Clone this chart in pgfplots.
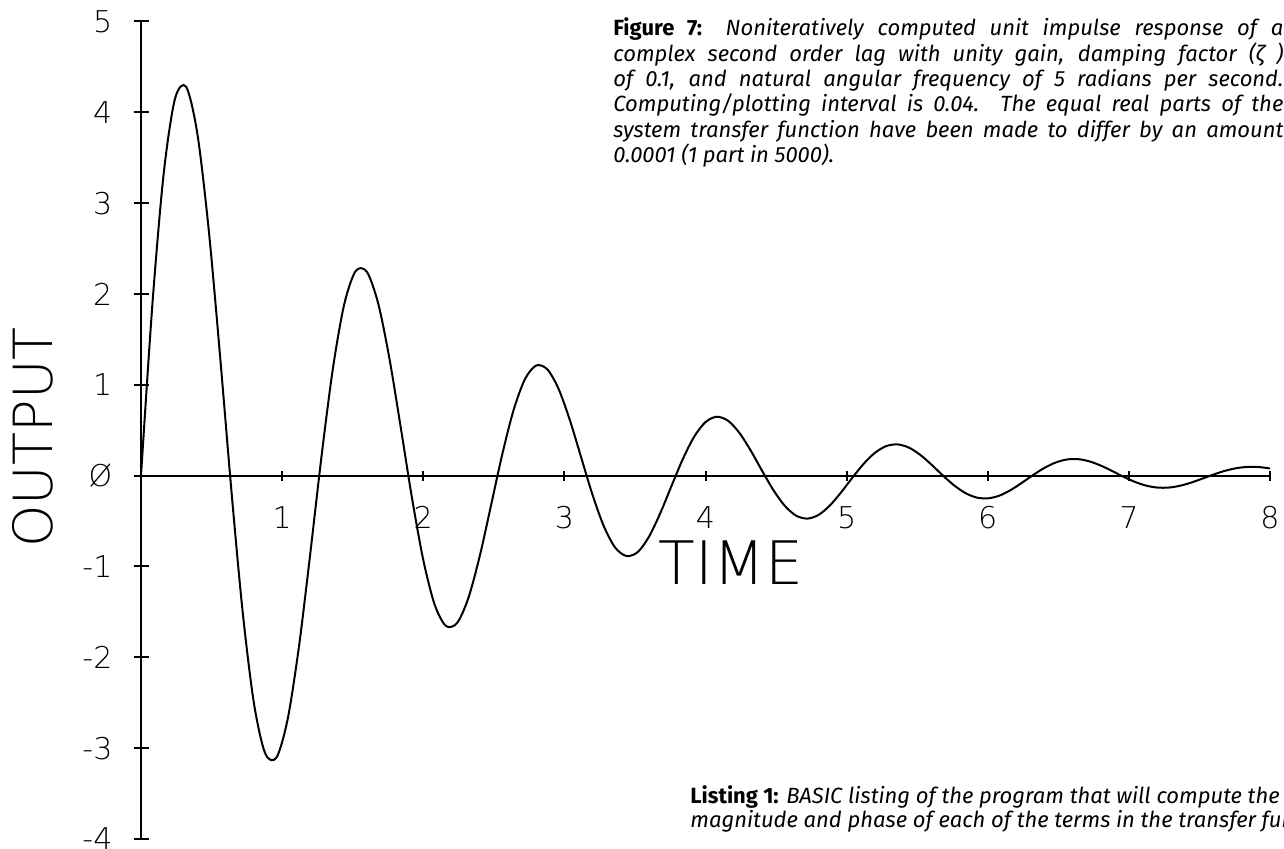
\documentclass[border=0pt]{standalone}
\usepackage{fontspec}
\usepackage{pgfplots}
\pgfplotsset{compat=1.18}
\IfFontExistsTF{DejaVu Sans ExtraLight}{\newfontfamily\plotfont{DejaVu Sans ExtraLight}}{\newfontfamily\plotfont{DejaVu Sans}}
\newfontfamily\capfont{Fira Sans}
\pgfplotstableread{
t h
0.00 0.0000
0.08 1.8712
0.16 3.3147
0.24 4.1442
0.32 4.2813
0.40 3.7581
0.48 2.7050
0.56 1.3224
0.64 -0.1545
0.72 -1.4945
0.80 -2.5046
0.88 -3.0571
0.96 -3.1032
1.04 -2.6750
1.12 -1.8738
1.20 -0.8499
1.28 0.2242
1.36 1.1818
1.44 1.8864
1.52 2.2506
1.60 2.2453
1.68 1.8998
1.76 1.2926
1.84 0.5359
1.92 -0.2439
2.00 -0.9267
2.08 -1.4164
2.16 -1.6536
2.24 -1.6216
2.32 -1.3461
2.40 -0.8875
2.48 -0.3295
2.56 0.2356
2.64 0.7215
2.72 1.0606
2.80 1.2127
2.88 1.1690
2.96 0.9514
3.04 0.6062
3.12 0.1955
3.20 -0.2133
3.28 -0.5583
3.36 -0.7920
3.44 -0.8846
3.52 -0.8412
3.60 -0.6707
3.68 -0.4116
3.76 -0.1099
3.84 0.1853
3.92 0.4296
4.00 0.5900
4.08 0.6485
4.16 0.6042
4.24 0.4715
4.32 0.2776
4.40 0.0564
4.48 -0.1563
4.56 -0.3290
4.64 -0.4384
4.72 -0.4730
4.80 -0.4331
4.88 -0.3305
4.96 -0.1857
5.04 -0.0239
5.12 0.1292
5.20 0.2508
5.28 0.3251
5.36 0.3443
5.44 0.3098
5.52 0.2310
5.60 0.1231
5.68 0.0049
5.76 -0.1050
5.84 -0.1905
5.92 -0.2405
6.00 -0.2502
6.08 -0.2212
6.16 -0.1608
6.24 -0.0807
6.32 0.0055
6.40 0.0842
6.48 0.1441
6.56 0.1776
6.64 0.1815
6.72 0.1576
6.80 0.1116
6.88 0.0522
6.96 -0.0105
7.04 -0.0668
7.12 -0.1087
7.20 -0.1308
7.28 -0.1314
7.36 -0.1120
7.44 -0.0771
7.52 -0.0332
7.60 0.0124
7.68 0.0526
7.76 0.0817
7.84 0.0962
7.92 0.0950
8.00 0.0794
}\impulse
\begin{document}
\begin{tikzpicture}[x=1pt,y=1pt]
\useasboundingbox (0,0) rectangle (642,424.5);
\clip (0,0) rectangle (642,424.5);
\begin{axis}[
  at={(70.5pt,5pt)}, anchor=south west,
  scale only axis, width=564.5pt, height=408.75pt,
  xmin=0, xmax=8, ymin=-4, ymax=5,
  axis x line=middle, axis y line=middle,
  axis line style={-, line width=1.1pt, black},
  hide obscured x ticks=false, hide obscured y ticks=false,
  xtick={1,2,3,4,5,6,7,8}, xticklabels={1,2,3,4,5,6,7,8},
  ytick={-4,-3,-2,-1,0,1,2,3,4,5},
  yticklabels={-4,-3,-2,-1,Ø,1,2,3,4,5},
  tick align=center,
  xtick style={/pgfplots/major tick length=5pt, line width=1pt, black},
  ytick style={/pgfplots/major tick length=7.5pt, line width=1pt, black},
  tick label style={font=\plotfont\fontsize{15}{15}\selectfont},
  xticklabel style={anchor=north, inner sep=0pt, yshift=-13pt},
  yticklabel style={anchor=east, inner sep=0pt, xshift=-12pt},
  clip=false,
]
\addplot[black, line width=1pt, smooth] table[x=t, y=h] {\impulse};
\end{axis}
\node[font=\plotfont\fontsize{30}{30}\selectfont, inner sep=0pt] at (365.5,143) {TIME};
\node[rotate=90, font=\plotfont\fontsize{27}{27}\selectfont, inner sep=0pt] at (16.25,205.75) {OUTPUT};
\begin{scope}[every node/.style={anchor=base west, inner sep=0pt, font=\capfont\fontsize{11}{12}\selectfont\itshape}]
\node at (306.5,406.5) {\makebox[335pt][s]{\upshape\bfseries Figure 7:\mdseries\itshape{} Noniteratively computed unit impulse response of a}};
\node at (306.5,393.85) {\makebox[335pt][s]{complex second order lag with unity gain, damping factor (ζ )}};
\node at (306.5,381.2) {\makebox[335pt][s]{of 0.1, and natural angular frequency of 5 radians per second.}};
\node at (306.5,368.55) {\makebox[335pt][s]{Computing/plotting interval is 0.04. The equal real parts of the}};
\node at (306.5,355.9) {\makebox[335pt][s]{system transfer function have been made to differ by an amount}};
\node at (306.5,343.25) {0.0001 (1 part in 5000).};
\node at (345,22.5) {{\upshape\bfseries Listing 1:} BASIC listing of the program that will compute the};
\node at (345,10.5) {magnitude and phase of each of the terms in the transfer function};
\end{scope}
\end{tikzpicture}
\end{document}
